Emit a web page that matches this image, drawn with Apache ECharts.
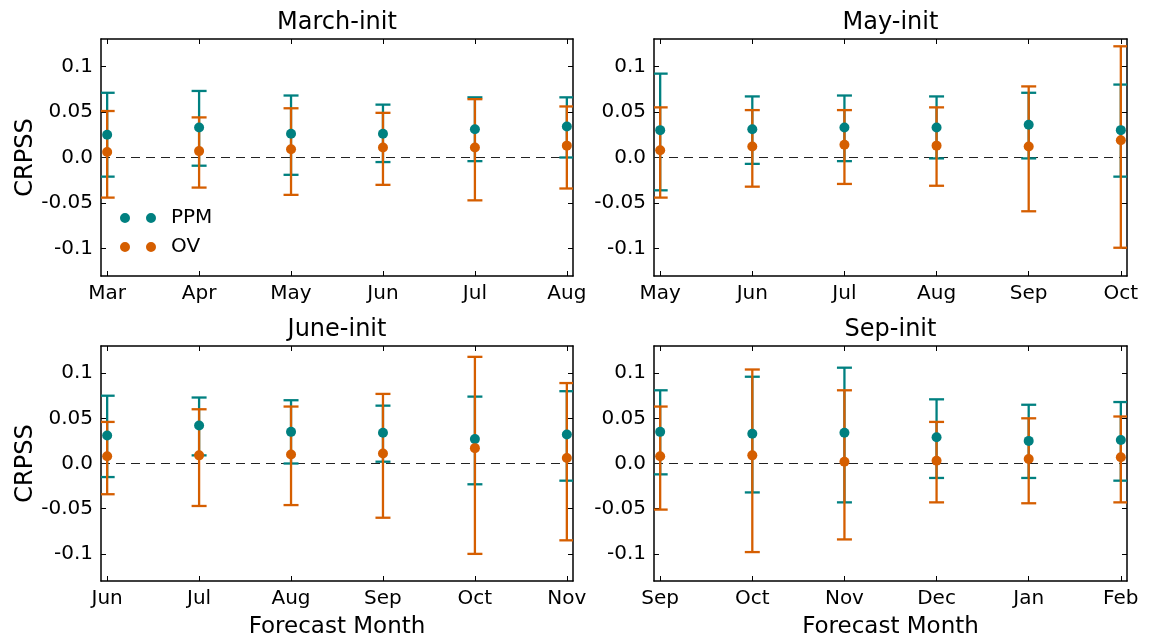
<!DOCTYPE html>
<html>
<head>
<meta charset="utf-8">
<title>CRPSS by forecast month</title>
<script src="https://cdn.jsdelivr.net/npm/echarts@6/dist/echarts.min.js"></script>
<style>
  html, body { margin: 0; padding: 0; background: #fff; }
  #chart { width: 1151px; height: 640px; }
</style>
</head>
<body>
<div id="chart"></div>
<script>
// ---- Data: CRPSS mean and confidence bounds per initialisation ----
const marchMonths = ['Mar', 'Apr', 'May', 'Jun', 'Jul', 'Aug'];
const marchPpm     = [0.025, 0.033, 0.026, 0.026, 0.031, 0.034];
const marchPpmLow  = [-0.021, -0.009, -0.019, -0.005, -0.004, 0.000];
const marchPpmHigh = [0.071, 0.073, 0.068, 0.058, 0.066, 0.066];
const marchOv      = [0.006, 0.007, 0.009, 0.011, 0.011, 0.013];
const marchOvLow   = [-0.044, -0.033, -0.041, -0.030, -0.047, -0.034];
const marchOvHigh  = [0.051, 0.044, 0.054, 0.049, 0.064, 0.056];

const mayMonths = ['May', 'Jun', 'Jul', 'Aug', 'Sep', 'Oct'];
const mayPpm     = [0.030, 0.031, 0.033, 0.033, 0.036, 0.030];
const mayPpmLow  = [-0.036, -0.007, -0.004, -0.001, -0.001, -0.021];
const mayPpmHigh = [0.092, 0.067, 0.068, 0.067, 0.071, 0.080];
const mayOv      = [0.008, 0.012, 0.014, 0.013, 0.012, 0.019];
const mayOvLow   = [-0.044, -0.032, -0.029, -0.031, -0.059, -0.099];
const mayOvHigh  = [0.055, 0.052, 0.052, 0.055, 0.078, 0.122];

const juneMonths = ['Jun', 'Jul', 'Aug', 'Sep', 'Oct', 'Nov'];
const junePpm     = [0.031, 0.042, 0.035, 0.034, 0.027, 0.032];
const junePpmLow  = [-0.015, 0.009, 0.000, 0.002, -0.023, -0.019];
const junePpmHigh = [0.075, 0.073, 0.070, 0.064, 0.074, 0.080];
const juneOv      = [0.008, 0.009, 0.010, 0.011, 0.017, 0.006];
const juneOvLow   = [-0.034, -0.047, -0.046, -0.060, -0.100, -0.085];
const juneOvHigh  = [0.046, 0.060, 0.063, 0.077, 0.118, 0.089];

const sepMonths = ['Sep', 'Oct', 'Nov', 'Dec', 'Jan', 'Feb'];
const sepPpm     = [0.035, 0.033, 0.034, 0.029, 0.025, 0.026];
const sepPpmLow  = [-0.012, -0.032, -0.043, -0.016, -0.016, -0.019];
const sepPpmHigh = [0.081, 0.096, 0.106, 0.071, 0.065, 0.068];
const sepOv      = [0.008, 0.009, 0.002, 0.003, 0.005, 0.007];
const sepOvLow   = [-0.051, -0.098, -0.084, -0.043, -0.044, -0.043];
const sepOvHigh  = [0.063, 0.104, 0.081, 0.046, 0.050, 0.052];

const yTicks = [-0.1, -0.05, 0, 0.05, 0.1];
const seriesNames = ['PPM', 'OV'];

// ---- Panel layout and styling ----
const FONT = 'DejaVu Sans';
const TEAL = '#008080';
const ORANGE = '#d55e00';
const X_MIN = -0.067, X_MAX = 5.067;
const Y_MIN = -0.13, Y_MAX = 0.13;

const panels = [
  { title: 'March-init', months: marchMonths, ppm: [marchPpm, marchPpmLow, marchPpmHigh], ov: [marchOv, marchOvLow, marchOvHigh],
    grid: { left: 101, top: 39, width: 472, height: 237 }, yName: true, xName: false },
  { title: 'May-init', months: mayMonths, ppm: [mayPpm, mayPpmLow, mayPpmHigh], ov: [mayOv, mayOvLow, mayOvHigh],
    grid: { left: 654, top: 39, width: 473, height: 237 }, yName: false, xName: false },
  { title: 'June-init', months: juneMonths, ppm: [junePpm, junePpmLow, junePpmHigh], ov: [juneOv, juneOvLow, juneOvHigh],
    grid: { left: 101, top: 346, width: 472, height: 237 }, yName: true, xName: true },
  { title: 'Sep-init', months: sepMonths, ppm: [sepPpm, sepPpmLow, sepPpmHigh], ov: [sepOv, sepOvLow, sepOvHigh],
    grid: { left: 654, top: 346, width: 473, height: 237 }, yName: false, xName: true }
];

const frameLine = { show: true, onZero: false, lineStyle: { color: '#000', width: 1.5 } };
const tickStyle = { color: '#000', width: 1 };
const fmtY = v => (Math.abs(v) < 1e-9 ? '0.0' : String(+v.toFixed(2)));

// Vertical bar with caps, clipped to the plotting area
function errorBarRenderer(color) {
  return function (params, api) {
    const x = api.value(0);
    const lo = api.coord([x, api.value(1)]);
    const hi = api.coord([x, api.value(2)]);
    const cs = params.coordSys;
    const half = 7.5;
    const x1 = Math.max(lo[0] - half, cs.x);
    const x2 = Math.min(lo[0] + half, cs.x + cs.width);
    const style = { stroke: color, lineWidth: 2.3 };
    return {
      type: 'group',
      children: [
        { type: 'line', shape: { x1: lo[0], y1: lo[1], x2: hi[0], y2: hi[1] }, style },
        { type: 'line', shape: { x1: x1, y1: lo[1], x2: x2, y2: lo[1] }, style },
        { type: 'line', shape: { x1: x1, y1: hi[1], x2: x2, y2: hi[1] }, style }
      ]
    };
  };
}

const grids = [], xAxes = [], yAxes = [], series = [], titles = [];

panels.forEach((p, g) => {
  grids.push(Object.assign({ show: false, containLabel: false }, p.grid));
  titles.push({
    text: p.title,
    left: p.grid.left + p.grid.width / 2,
    top: p.grid.top - 28,
    textAlign: 'center',
    padding: 0,
    textStyle: { fontFamily: FONT, fontSize: 24, fontWeight: 'normal', color: '#000' }
  });

  const xTickValues = p.months.map((m, i) => i);
  // bottom x axis with month labels
  xAxes.push({
    type: 'value', gridIndex: g, position: 'bottom', min: X_MIN, max: X_MAX,
    axisLine: frameLine,
    axisTick: { show: true, inside: true, length: 5, lineStyle: tickStyle, customValues: xTickValues },
    axisLabel: {
      show: true, customValues: xTickValues, margin: 8,
      fontFamily: FONT, fontSize: 20, color: '#000',
      formatter: v => p.months[Math.round(v)]
    },
    splitLine: { show: false },
    name: p.xName ? 'Forecast Month' : '',
    nameLocation: 'middle', nameGap: 35,
    nameTextStyle: { fontFamily: FONT, fontSize: 23, color: '#000' }
  });
  // top frame with inward ticks
  xAxes.push({
    type: 'value', gridIndex: g, position: 'top', min: X_MIN, max: X_MAX,
    axisLine: frameLine,
    axisTick: { show: true, inside: true, length: 5, lineStyle: tickStyle, customValues: xTickValues },
    axisLabel: { show: false },
    splitLine: { show: false }
  });
  // left y axis
  yAxes.push({
    type: 'value', gridIndex: g, position: 'left', min: Y_MIN, max: Y_MAX,
    axisLine: frameLine,
    axisTick: { show: true, inside: true, length: 5, lineStyle: tickStyle, customValues: yTicks },
    axisLabel: {
      show: true, customValues: yTicks, margin: 8,
      fontFamily: FONT, fontSize: 20, color: '#000', formatter: fmtY
    },
    splitLine: { show: false },
    name: p.yName ? 'CRPSS' : '',
    nameLocation: 'middle', nameGap: 63, nameRotate: 90,
    nameTextStyle: { fontFamily: FONT, fontSize: 24, color: '#000' }
  });
  // right frame with inward ticks
  yAxes.push({
    type: 'value', gridIndex: g, position: 'right', min: Y_MIN, max: Y_MAX,
    axisLine: frameLine,
    axisTick: { show: true, inside: true, length: 5, lineStyle: tickStyle, customValues: yTicks },
    axisLabel: { show: false },
    splitLine: { show: false }
  });

  const xi = 2 * g, yi = 2 * g;
  const groups = [
    { name: seriesNames[0], color: TEAL, vals: p.ppm },
    { name: seriesNames[1], color: ORANGE, vals: p.ov }
  ];

  // error bars (drawn beneath all markers)
  groups.forEach((s, k) => {
    series.push({
      type: 'custom', name: s.name + ' range', xAxisIndex: xi, yAxisIndex: yi,
      renderItem: errorBarRenderer(s.color),
      data: p.months.map((m, i) => [i, s.vals[1][i], s.vals[2][i]]),
      encode: { x: 0, y: [1, 2] },
      z: 2 + k * 0.1, silent: true
    });
  });

  // markers
  groups.forEach((s, k) => {
    const sr = {
      type: 'scatter', name: s.name, xAxisIndex: xi, yAxisIndex: yi,
      symbol: 'circle', symbolSize: 10,
      itemStyle: { color: s.color, opacity: 1 },
      data: p.months.map((m, i) => [i, s.vals[0][i]]),
      z: 4 + k * 0.1, silent: true
    };
    if (k === 0) {
      sr.markLine = {
        silent: true, symbol: ['none', 'none'], label: { show: false },
        lineStyle: { color: '#222', width: 1.1, type: [9, 6] },
        data: [{ yAxis: 0 }], z: 1
      };
    }
    series.push(sr);
  });
});

const twoDots = 'path://M0,5A5,5,0,1,1,10,5A5,5,0,1,1,0,5ZM26,5A5,5,0,1,1,36,5A5,5,0,1,1,26,5Z';

const option = {
  animation: false,
  backgroundColor: '#fff',
  title: titles,
  grid: grids,
  xAxis: xAxes,
  yAxis: yAxes,
  legend: {
    data: seriesNames.map(n => ({ name: n, icon: twoDots })),
    orient: 'vertical',
    left: 120, top: 208,
    itemWidth: 36, itemHeight: 10, itemGap: 9,
    selectedMode: false, padding: 0,
    textStyle: { fontFamily: FONT, fontSize: 20, color: '#000', padding: [0, 0, 0, 10] }
  },
  series: series
};

const chart = echarts.init(document.getElementById('chart'), null, { renderer: 'canvas' });
chart.setOption(option);
</script>
</body>
</html>
